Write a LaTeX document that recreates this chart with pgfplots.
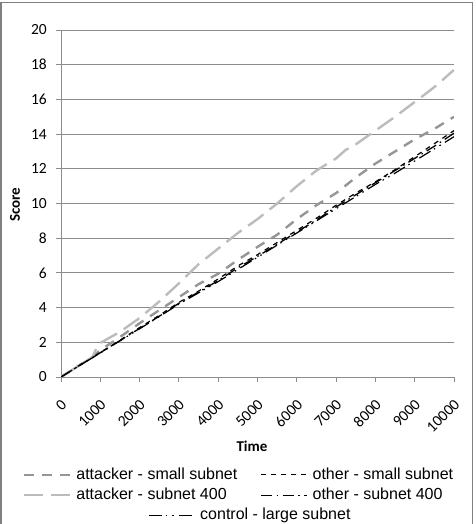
\documentclass[border=0pt]{standalone}
\usepackage{pgfplots}
\pgfplotsset{compat=1.18}
\usepackage{fontspec}
\setmainfont{Carlito}
\newfontfamily\arialfont{Liberation Sans}
\newfontfamily\calfont{Carlito}
\definecolor{gridgray}{RGB}{140,140,140}
\definecolor{framegray}{RGB}{128,128,128}
\definecolor{midgray}{RGB}{150,150,150}
\definecolor{lightgray2}{RGB}{188,188,188}

\pgfplotsset{
  attsmall/.style={midgray, line width=2.4bp, dash pattern=on 10bp off 8bp},
  att400/.style={lightgray2, line width=2.4bp, dash pattern=on 19bp off 8bp},
  othsmall/.style={black, line width=1.2bp, dash pattern=on 5bp off 5bp},
  oth400/.style={black, line width=1.3bp, dash pattern=on 11bp off 4.5bp on 1.5bp off 4.5bp},
  control/.style={black, line width=1.2bp, dash pattern=on 13bp off 4bp on 1.5bp off 5bp on 1.5bp off 5bp},
  mylegend/.style={
    legend image code/.code={\draw[##1] (0bp,0bp) -- (46bp,0bp);},
    legend cell align=left,
    legend style={draw=none, fill=none, inner sep=0pt, outer sep=0pt,
      font=\arialfont\fontsize{16bp}{18bp}\selectfont,
      nodes={inner sep=0pt, text height=12bp, text depth=3.5bp},
      row sep=5bp,
      /tikz/every odd column/.append style={column sep=5bp},
      /tikz/every even column/.append style={column sep=23bp}},
  },
  commonaxis/.style={
    at={(61bp,147bp)}, anchor=south west,
    width=393bp, height=347bp, scale only axis,
    xmin=0, xmax=10000, ymin=0, ymax=20,
  },
}

\begin{document}
\begin{tikzpicture}
\useasboundingbox (0bp,0bp) rectangle (476bp,524bp);
\draw[framegray, line width=1.2bp] (1bp,-5bp) -- (1bp,521.3bp) -- (472.5bp,521.3bp) -- (472.5bp,-5bp);
\begin{axis}[
  commonaxis, mylegend,
  axis x line=bottom, axis y line=left,
  axis line style={-, gridgray, line width=0.9bp},
  xtick={0,1000,...,10000}, ytick={0,2,...,20},
  scaled x ticks=false,
  xticklabel={\calfont\fontsize{15.5bp}{18bp}\selectfont\pgfmathprintnumber[set thousands separator={}, assume math mode=true]{\tick}},
  yticklabel={\calfont\fontsize{15.5bp}{18bp}\selectfont\pgfmathprintnumber[assume math mode=true]{\tick}},
  ymajorgrids, grid style={gridgray, line width=0.9bp},
  tick style={gridgray, line width=0.9bp},
  major tick length=5bp, tick align=outside,
  xticklabel style={text=black, xshift=3bp, yshift=-20bp, rotate=45, anchor=east, inner sep=0pt},
  yticklabel style={text=black, inner sep=0pt, xshift=-9bp},
  xlabel={\calfont\fontsize{15bp}{18bp}\selectfont\bfseries Time},
  ylabel={\calfont\fontsize{15bp}{18bp}\selectfont\bfseries Score},
  x label style={at={(axis description cs:0.486,-0.199)}, anchor=center},
  y label style={at={(axis description cs:-0.117,0.496)}, anchor=center},
  legend columns=2,
  legend style={at={(-0.0967,-0.2594)}, anchor=north west},
]
\addplot[attsmall] coordinates {
(0,0) (500,0.72) (800,1.15) (1000,1.55) (1500,2.3) (2000,3.1) (2500,3.85) (3000,4.6) (3500,5.35) (4000,5.95) (4500,6.75) (5000,7.5) (5500,8.2) (6000,9.1) (6500,9.9) (7000,10.6) (7500,11.5) (8000,12.3) (8500,13.0) (9000,13.7) (9500,14.3) (10000,15.0)};
\addlegendentry{attacker - small subnet}
\addplot[othsmall] coordinates {
(0,0) (500,0.72) (1000,1.42) (1500,2.12) (2000,2.85) (2500,3.55) (3000,4.3) (3500,4.95) (4000,5.65) (4500,6.4) (5000,7.05) (5500,7.75) (6000,8.45) (6500,9.15) (7000,9.9) (7500,10.6) (8000,11.25) (8500,11.95) (9000,12.7) (9500,13.45) (10000,14.2)};
\addlegendentry{other - small subnet}
\addplot[att400] coordinates {
(0,0) (500,0.72) (800,1.15) (950,1.9) (1500,2.6) (2000,3.4) (2500,4.35) (3000,5.4) (3500,6.5) (4000,7.4) (4500,8.3) (5000,9.1) (5500,10.0) (6000,11.0) (6500,11.9) (7000,12.6) (7250,13.1) (7400,13.25) (8000,14.2) (8500,15.0) (9000,15.85) (9150,16.1) (9550,16.8) (10000,17.7)};
\addlegendentry{attacker - subnet 400}
\addplot[oth400] coordinates {
(0,0) (500,0.7) (1000,1.4) (1500,2.1) (2000,2.8) (2500,3.5) (3000,4.25) (3500,4.9) (4000,5.55) (4500,6.3) (5000,6.95) (5500,7.65) (6000,8.35) (6500,9.05) (7000,9.8) (7500,10.5) (8000,11.2) (8500,11.9) (9000,12.6) (9500,13.3) (10000,14.05)};
\addlegendentry{other - subnet 400}
\addplot[control, forget plot] coordinates {
(0,0) (500,0.7) (1000,1.38) (1500,2.08) (2000,2.78) (2500,3.48) (3000,4.2) (3500,4.85) (4000,5.5) (4500,6.2) (5000,6.9) (5500,7.6) (6000,8.3) (6500,9.0) (7000,9.7) (7500,10.4) (8000,11.1) (8500,11.75) (9000,12.45) (9500,13.15) (10000,13.85)};
\end{axis}
\begin{axis}[
  commonaxis, mylegend, hide axis,
  legend style={at={(0.2214,-0.3775)}, anchor=north west},
]
\addlegendimage{control}
\addlegendentry{control - large subnet}
\end{axis}
\end{tikzpicture}
\end{document}
